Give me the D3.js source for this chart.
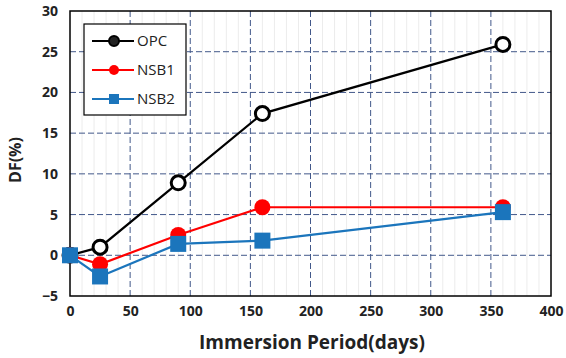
<!DOCTYPE html>
<html lang="en">
<head>
    <meta charset="UTF-8">
    <title>DF vs Immersion Period</title>
    <script src="https://d3js.org/d3.v7.min.js"></script>
    <style>
        body {
            margin: 0;
            background-color: #fff;
        }
        svg text {
            font-family: "Open Sans", "Liberation Sans", sans-serif;
        }
    </style>
</head>
<body>
    <svg id="chart" width="566" height="358"></svg>
    <script>
        // Data
        const days = [0, 25, 90, 160, 360];
        const opc = [0, 1, 8.9, 17.4, 25.9];
        const nsb1 = [0, -1.1, 2.5, 5.9, 5.9];
        const nsb2 = [0, -2.6, 1.4, 1.8, 5.3];
        const xTicks = [0, 50, 100, 150, 200, 250, 300, 350, 400];
        const yTicks = [-5, 0, 5, 10, 15, 20, 25, 30];

        const series = [
            { name: "OPC", values: opc, color: "#000000", marker: "hollow" },
            { name: "NSB1", values: nsb1, color: "#ff0000", marker: "circle" },
            { name: "NSB2", values: nsb2, color: "#1b75bc", marker: "square" }
        ];

        const svg = d3.select("#chart");
        const margin = { top: 11, right: 15, bottom: 62, left: 70 };
        const width = 566 - margin.left - margin.right;
        const height = 358 - margin.top - margin.bottom;

        const x = d3.scaleLinear().domain([0, 400]).range([0, width]);
        const y = d3.scaleLinear().domain([-5, 30]).range([height, 0]);

        const g = svg.append("g").attr("transform", `translate(${margin.left},${margin.top})`);

        // faint minor vertical lines
        g.append("g")
            .selectAll("line")
            .data(d3.range(10, 400, 10).filter(d => d % 50 !== 0))
            .join("line")
            .attr("x1", d => x(d)).attr("x2", d => x(d))
            .attr("y1", 0).attr("y2", height)
            .attr("stroke", "#ececec")
            .attr("stroke-width", 1);

        // major gridlines
        g.append("g")
            .selectAll("line")
            .data(xTicks.slice(1, -1))
            .join("line")
            .attr("x1", d => x(d)).attr("x2", d => x(d))
            .attr("y1", 0).attr("y2", height)
            .attr("stroke", "#42588a")
            .attr("stroke-width", 1)
            .attr("stroke-dasharray", "6,3");

        g.append("g")
            .selectAll("line")
            .data(yTicks.slice(1, -1))
            .join("line")
            .attr("x1", 0).attr("x2", width)
            .attr("y1", d => y(d)).attr("y2", d => y(d))
            .attr("stroke", "#42588a")
            .attr("stroke-width", 1)
            .attr("stroke-dasharray", "6,3");

        // frame
        g.append("rect")
            .attr("width", width).attr("height", height)
            .attr("fill", "none")
            .attr("stroke", "#000")
            .attr("stroke-width", 1.5);

        // axes
        const xAxis = g.append("g")
            .attr("transform", `translate(0,${height})`)
            .call(d3.axisBottom(x).tickValues(xTicks).tickSize(0).tickPadding(10));
        const yAxis = g.append("g")
            .call(d3.axisLeft(y).tickValues(yTicks).tickSize(0).tickPadding(12));
        [xAxis, yAxis].forEach(a => {
            a.select(".domain").remove();
            a.selectAll("text")
                .attr("font-size", 14)
                .attr("font-weight", "bold")
                .attr("fill", "#222")
                .style("font-family", "'Open Sans', sans-serif");
        });

        // axis titles
        svg.append("text")
            .attr("x", 312).attr("y", 349)
            .attr("text-anchor", "middle")
            .attr("font-size", 19)
            .attr("font-weight", "bold")
            .attr("fill", "#222")
            .text("Immersion Period(days)");

        svg.append("text")
            .attr("transform", "translate(21,160) rotate(-90)")
            .attr("text-anchor", "middle")
            .attr("font-size", 16)
            .attr("font-weight", "bold")
            .attr("fill", "#222")
            .text("DF(%)");

        const line = d3.line()
            .x((d, i) => x(days[i]))
            .y(d => y(d));

        function drawMarker(sel, s, cx, cy) {
            if (s.marker === "hollow") {
                sel.append("circle")
                    .attr("cx", cx).attr("cy", cy).attr("r", 7)
                    .attr("fill", "#fff")
                    .attr("stroke", s.color)
                    .attr("stroke-width", 3);
            } else if (s.marker === "circle") {
                sel.append("circle")
                    .attr("cx", cx).attr("cy", cy).attr("r", 8)
                    .attr("fill", s.color);
            } else {
                sel.append("rect")
                    .attr("x", cx - 8).attr("y", cy - 8)
                    .attr("width", 16).attr("height", 16)
                    .attr("fill", s.color);
            }
        }

        // lines, then markers in series order (NSB2 ends up on top)
        series.forEach(s => {
            g.append("path")
                .datum(s.values)
                .attr("d", line)
                .attr("fill", "none")
                .attr("stroke", s.color)
                .attr("stroke-width", 2.2);
        });
        series.forEach(s => {
            const mg = g.append("g");
            s.values.forEach((v, i) => drawMarker(mg, s, x(days[i]), y(v)));
        });

        // legend
        const legend = svg.append("g");
        legend.append("rect")
            .attr("x", 84).attr("y", 24)
            .attr("width", 102).attr("height", 91)
            .attr("fill", "#fff")
            .attr("stroke", "#000")
            .attr("stroke-width", 1.2);

        series.forEach((s, i) => {
            const ly = 41 + i * 29;
            legend.append("line")
                .attr("x1", 92).attr("x2", 134)
                .attr("y1", ly).attr("y2", ly)
                .attr("stroke", s.color)
                .attr("stroke-width", 2.2);
            if (s.marker === "hollow") {
                legend.append("circle")
                    .attr("cx", 114).attr("cy", ly).attr("r", 5)
                    .attr("fill", "#222").attr("stroke", s.color).attr("stroke-width", 2);
            } else if (s.marker === "circle") {
                legend.append("circle")
                    .attr("cx", 114).attr("cy", ly).attr("r", 5)
                    .attr("fill", s.color);
            } else {
                legend.append("rect")
                    .attr("x", 109).attr("y", ly - 5)
                    .attr("width", 10).attr("height", 10)
                    .attr("fill", s.color);
            }
            legend.append("text")
                .attr("x", 137).attr("y", ly)
                .attr("dy", "0.35em")
                .attr("font-size", 15)
                .attr("fill", "#222")
                .text(s.name);
        });
    </script>
</body>
</html>
